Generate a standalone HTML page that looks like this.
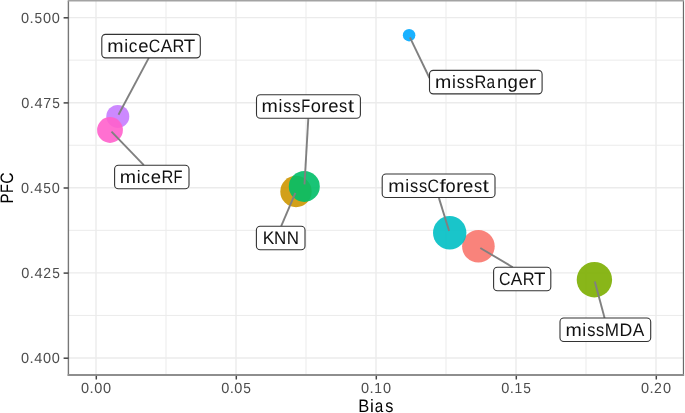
<!DOCTYPE html>
<html><head><meta charset="utf-8"><style>
html,body{margin:0;padding:0;background:#fff;}
svg{display:block;filter:blur(0.3px);}
text{font-family:"Liberation Sans",sans-serif;text-rendering:geometricPrecision;}
.ax{fill:#4D4D4D;}
.lb{fill:#111;}
.tt{fill:#000;}
</style></head><body>
<svg width="685" height="413" viewBox="0 0 685 413">
<rect x="0" y="0" width="685" height="413" fill="#fff"/>
<line x1="166.00" y1="0" x2="166.00" y2="375" stroke="#EBEBEB" stroke-width="1"/>
<line x1="306.00" y1="0" x2="306.00" y2="375" stroke="#EBEBEB" stroke-width="1"/>
<line x1="446.00" y1="0" x2="446.00" y2="375" stroke="#EBEBEB" stroke-width="1"/>
<line x1="586.00" y1="0" x2="586.00" y2="375" stroke="#EBEBEB" stroke-width="1"/>
<line x1="68" y1="315.45" x2="684" y2="315.45" stroke="#EBEBEB" stroke-width="1"/>
<line x1="68" y1="230.35" x2="684" y2="230.35" stroke="#EBEBEB" stroke-width="1"/>
<line x1="68" y1="145.25" x2="684" y2="145.25" stroke="#EBEBEB" stroke-width="1"/>
<line x1="68" y1="60.15" x2="684" y2="60.15" stroke="#EBEBEB" stroke-width="1"/>
<line x1="96.00" y1="0" x2="96.00" y2="375" stroke="#EBEBEB" stroke-width="1.4"/>
<line x1="236.00" y1="0" x2="236.00" y2="375" stroke="#EBEBEB" stroke-width="1.4"/>
<line x1="376.00" y1="0" x2="376.00" y2="375" stroke="#EBEBEB" stroke-width="1.4"/>
<line x1="516.00" y1="0" x2="516.00" y2="375" stroke="#EBEBEB" stroke-width="1.4"/>
<line x1="656.00" y1="0" x2="656.00" y2="375" stroke="#EBEBEB" stroke-width="1.4"/>
<line x1="68" y1="358.00" x2="684" y2="358.00" stroke="#EBEBEB" stroke-width="1.4"/>
<line x1="68" y1="272.90" x2="684" y2="272.90" stroke="#EBEBEB" stroke-width="1.4"/>
<line x1="68" y1="187.80" x2="684" y2="187.80" stroke="#EBEBEB" stroke-width="1.4"/>
<line x1="68" y1="102.70" x2="684" y2="102.70" stroke="#EBEBEB" stroke-width="1.4"/>
<line x1="68" y1="17.60" x2="684" y2="17.60" stroke="#EBEBEB" stroke-width="1.4"/>
<circle cx="478.4" cy="246.3" r="16.3" fill="#F8766D" fill-opacity="0.9"/>
<circle cx="449.7" cy="232.8" r="16.7" fill="#00BFC4" fill-opacity="0.9"/>
<circle cx="296" cy="191.5" r="15.7" fill="#CD9600" fill-opacity="0.9"/>
<circle cx="304.3" cy="186.4" r="15.5" fill="#00BE67" fill-opacity="0.9"/>
<circle cx="117.8" cy="116.4" r="11.5" fill="#C77CFF" fill-opacity="0.9"/>
<circle cx="110" cy="130" r="12.9" fill="#FF61CC" fill-opacity="0.9"/>
<circle cx="594.4" cy="279.7" r="17.7" fill="#7CAE00" fill-opacity="0.9"/>
<circle cx="409.1" cy="35.2" r="6.25" fill="#00A9FF" fill-opacity="0.9"/>
<line x1="118.5" y1="114.7" x2="148.8" y2="57.9" stroke="#808080" stroke-width="1.9"/>
<line x1="111.5" y1="131.6" x2="143.8" y2="165.2" stroke="#808080" stroke-width="1.9"/>
<line x1="409.9" y1="37.3" x2="429.5" y2="78" stroke="#808080" stroke-width="1.9"/>
<line x1="304.5" y1="184.4" x2="308.3" y2="118.4" stroke="#808080" stroke-width="1.9"/>
<line x1="295.4" y1="192.8" x2="281.2" y2="226.1" stroke="#808080" stroke-width="1.9"/>
<line x1="449.1" y1="231" x2="438.9" y2="197.9" stroke="#808080" stroke-width="1.9"/>
<line x1="480.3" y1="248" x2="512.8" y2="267.2" stroke="#808080" stroke-width="1.9"/>
<line x1="594.8" y1="281.4" x2="604.6" y2="318" stroke="#808080" stroke-width="1.9"/>
<rect x="101.8" y="34.35" width="98.5" height="23.5" rx="3.8" ry="3.8" fill="#fff" stroke="#333" stroke-width="1.1"/>
<text y="52.00" class="lb" style="font-size:18.09px"><tspan x="107.38" textLength="16.28" lengthAdjust="spacingAndGlyphs">m</tspan><tspan x="124.27" textLength="3.89" lengthAdjust="spacingAndGlyphs">i</tspan><tspan x="128.81" textLength="8.60" lengthAdjust="spacingAndGlyphs">c</tspan><tspan x="138.18" textLength="10.30" lengthAdjust="spacingAndGlyphs">e</tspan><tspan x="148.73" textLength="11.50" lengthAdjust="spacingAndGlyphs">C</tspan><tspan x="160.65" textLength="11.52" lengthAdjust="spacingAndGlyphs">A</tspan><tspan x="172.62" textLength="11.85" lengthAdjust="spacingAndGlyphs">R</tspan><tspan x="183.73" textLength="11.43" lengthAdjust="spacingAndGlyphs">T</tspan></text>
<rect x="429.5" y="70.35" width="112.6" height="23.5" rx="3.8" ry="3.8" fill="#fff" stroke="#333" stroke-width="1.1"/>
<text y="88.00" class="lb" style="font-size:18.09px"><tspan x="435.07" textLength="16.28" lengthAdjust="spacingAndGlyphs">m</tspan><tspan x="451.96" textLength="3.89" lengthAdjust="spacingAndGlyphs">i</tspan><tspan x="456.75" textLength="8.22" lengthAdjust="spacingAndGlyphs">s</tspan><tspan x="465.69" textLength="8.22" lengthAdjust="spacingAndGlyphs">s</tspan><tspan x="474.49" textLength="11.85" lengthAdjust="spacingAndGlyphs">R</tspan><tspan x="486.44" textLength="8.58" lengthAdjust="spacingAndGlyphs">a</tspan><tspan x="496.91" textLength="10.28" lengthAdjust="spacingAndGlyphs">n</tspan><tspan x="507.61" textLength="10.37" lengthAdjust="spacingAndGlyphs">g</tspan><tspan x="518.49" textLength="10.30" lengthAdjust="spacingAndGlyphs">e</tspan><tspan x="528.98" textLength="7.32" lengthAdjust="spacingAndGlyphs">r</tspan></text>
<rect x="114.6" y="165.20" width="74.4" height="23.5" rx="3.8" ry="3.8" fill="#fff" stroke="#333" stroke-width="1.1"/>
<text y="182.85" class="lb" style="font-size:18.09px"><tspan x="119.86" textLength="16.28" lengthAdjust="spacingAndGlyphs">m</tspan><tspan x="136.75" textLength="3.89" lengthAdjust="spacingAndGlyphs">i</tspan><tspan x="141.29" textLength="8.60" lengthAdjust="spacingAndGlyphs">c</tspan><tspan x="150.66" textLength="10.30" lengthAdjust="spacingAndGlyphs">e</tspan><tspan x="161.39" textLength="11.85" lengthAdjust="spacingAndGlyphs">R</tspan><tspan x="173.45" textLength="8.98" lengthAdjust="spacingAndGlyphs">F</tspan></text>
<rect x="256.5" y="94.75" width="103.9" height="23.5" rx="3.8" ry="3.8" fill="#fff" stroke="#333" stroke-width="1.1"/>
<text y="112.40" class="lb" style="font-size:18.09px"><tspan x="261.61" textLength="16.28" lengthAdjust="spacingAndGlyphs">m</tspan><tspan x="278.50" textLength="3.89" lengthAdjust="spacingAndGlyphs">i</tspan><tspan x="283.29" textLength="8.22" lengthAdjust="spacingAndGlyphs">s</tspan><tspan x="292.22" textLength="8.22" lengthAdjust="spacingAndGlyphs">s</tspan><tspan x="301.16" textLength="8.98" lengthAdjust="spacingAndGlyphs">F</tspan><tspan x="310.73" textLength="10.14" lengthAdjust="spacingAndGlyphs">o</tspan><tspan x="321.14" textLength="7.32" lengthAdjust="spacingAndGlyphs">r</tspan><tspan x="328.26" textLength="10.30" lengthAdjust="spacingAndGlyphs">e</tspan><tspan x="339.12" textLength="8.22" lengthAdjust="spacingAndGlyphs">s</tspan><tspan x="347.70" textLength="6.37" lengthAdjust="spacingAndGlyphs">t</tspan></text>
<rect x="256.4" y="226.20" width="48.6" height="23.5" rx="3.8" ry="3.8" fill="#fff" stroke="#333" stroke-width="1.1"/>
<text y="243.85" class="lb" style="font-size:18.09px"><tspan x="262.71" textLength="11.54" lengthAdjust="spacingAndGlyphs">K</tspan><tspan x="273.99" textLength="12.23" lengthAdjust="spacingAndGlyphs">N</tspan><tspan x="286.82" textLength="12.23" lengthAdjust="spacingAndGlyphs">N</tspan></text>
<rect x="382.2" y="174.00" width="112.8" height="23.5" rx="3.8" ry="3.8" fill="#fff" stroke="#333" stroke-width="1.1"/>
<text y="191.65" class="lb" style="font-size:18.09px"><tspan x="388.33" textLength="16.28" lengthAdjust="spacingAndGlyphs">m</tspan><tspan x="405.22" textLength="3.89" lengthAdjust="spacingAndGlyphs">i</tspan><tspan x="410.02" textLength="8.22" lengthAdjust="spacingAndGlyphs">s</tspan><tspan x="418.95" textLength="8.22" lengthAdjust="spacingAndGlyphs">s</tspan><tspan x="427.57" textLength="11.50" lengthAdjust="spacingAndGlyphs">C</tspan><tspan x="439.46" textLength="6.26" lengthAdjust="spacingAndGlyphs">f</tspan><tspan x="445.61" textLength="10.14" lengthAdjust="spacingAndGlyphs">o</tspan><tspan x="456.02" textLength="7.32" lengthAdjust="spacingAndGlyphs">r</tspan><tspan x="463.13" textLength="10.30" lengthAdjust="spacingAndGlyphs">e</tspan><tspan x="473.99" textLength="8.22" lengthAdjust="spacingAndGlyphs">s</tspan><tspan x="482.57" textLength="6.37" lengthAdjust="spacingAndGlyphs">t</tspan></text>
<rect x="493.6" y="267.30" width="57.2" height="23.5" rx="3.8" ry="3.8" fill="#fff" stroke="#333" stroke-width="1.1"/>
<text y="284.95" class="lb" style="font-size:18.09px"><tspan x="498.95" textLength="11.50" lengthAdjust="spacingAndGlyphs">C</tspan><tspan x="510.87" textLength="11.52" lengthAdjust="spacingAndGlyphs">A</tspan><tspan x="522.84" textLength="11.85" lengthAdjust="spacingAndGlyphs">R</tspan><tspan x="533.95" textLength="11.43" lengthAdjust="spacingAndGlyphs">T</tspan></text>
<rect x="560.0" y="318.00" width="90.7" height="23.5" rx="3.8" ry="3.8" fill="#fff" stroke="#333" stroke-width="1.1"/>
<text y="335.65" class="lb" style="font-size:18.09px"><tspan x="565.46" textLength="16.28" lengthAdjust="spacingAndGlyphs">m</tspan><tspan x="582.35" textLength="3.89" lengthAdjust="spacingAndGlyphs">i</tspan><tspan x="587.15" textLength="8.22" lengthAdjust="spacingAndGlyphs">s</tspan><tspan x="596.08" textLength="8.22" lengthAdjust="spacingAndGlyphs">s</tspan><tspan x="604.83" textLength="14.24" lengthAdjust="spacingAndGlyphs">M</tspan><tspan x="619.57" textLength="12.81" lengthAdjust="spacingAndGlyphs">D</tspan><tspan x="632.65" textLength="11.52" lengthAdjust="spacingAndGlyphs">A</tspan></text>
<line x1="68.4" y1="1" x2="68.4" y2="375.9" stroke="#777" stroke-width="1.4"/>
<line x1="683.45" y1="1" x2="683.45" y2="375.9" stroke="#6A6A6A" stroke-width="1.2"/>
<line x1="67.7" y1="0.8" x2="684.1" y2="0.8" stroke="#A3A3A3" stroke-width="1.6"/>
<line x1="67.7" y1="374.9" x2="684.1" y2="374.9" stroke="#8E8E8E" stroke-width="2"/>
<line x1="63.6" y1="358.20" x2="68.4" y2="358.20" stroke="#444" stroke-width="1.5"/>
<line x1="63.6" y1="273.10" x2="68.4" y2="273.10" stroke="#444" stroke-width="1.5"/>
<line x1="63.6" y1="188.00" x2="68.4" y2="188.00" stroke="#444" stroke-width="1.5"/>
<line x1="63.6" y1="102.90" x2="68.4" y2="102.90" stroke="#444" stroke-width="1.5"/>
<line x1="63.6" y1="17.80" x2="68.4" y2="17.80" stroke="#444" stroke-width="1.5"/>
<line x1="96.30" y1="375.9" x2="96.30" y2="379.5" stroke="#444" stroke-width="1.5"/>
<line x1="236.30" y1="375.9" x2="236.30" y2="379.5" stroke="#444" stroke-width="1.5"/>
<line x1="376.30" y1="375.9" x2="376.30" y2="379.5" stroke="#444" stroke-width="1.5"/>
<line x1="516.30" y1="375.9" x2="516.30" y2="379.5" stroke="#444" stroke-width="1.5"/>
<line x1="656.30" y1="375.9" x2="656.30" y2="379.5" stroke="#444" stroke-width="1.5"/>
<text y="363.00" class="ax" style="font-size:14.63px"><tspan x="21.05" textLength="8.09" lengthAdjust="spacingAndGlyphs">0</tspan><tspan x="29.60" textLength="4.15" lengthAdjust="spacingAndGlyphs">.</tspan><tspan x="34.22" textLength="8.09" lengthAdjust="spacingAndGlyphs">4</tspan><tspan x="43.00" textLength="8.09" lengthAdjust="spacingAndGlyphs">0</tspan><tspan x="51.78" textLength="8.09" lengthAdjust="spacingAndGlyphs">0</tspan></text>
<text y="277.90" class="ax" style="font-size:14.63px"><tspan x="21.34" textLength="8.09" lengthAdjust="spacingAndGlyphs">0</tspan><tspan x="29.89" textLength="4.15" lengthAdjust="spacingAndGlyphs">.</tspan><tspan x="34.51" textLength="8.09" lengthAdjust="spacingAndGlyphs">4</tspan><tspan x="43.25" textLength="7.80" lengthAdjust="spacingAndGlyphs">2</tspan><tspan x="52.24" textLength="7.64" lengthAdjust="spacingAndGlyphs">5</tspan></text>
<text y="192.80" class="ax" style="font-size:14.63px"><tspan x="21.05" textLength="8.09" lengthAdjust="spacingAndGlyphs">0</tspan><tspan x="29.60" textLength="4.15" lengthAdjust="spacingAndGlyphs">.</tspan><tspan x="34.22" textLength="8.09" lengthAdjust="spacingAndGlyphs">4</tspan><tspan x="43.17" textLength="7.64" lengthAdjust="spacingAndGlyphs">5</tspan><tspan x="51.78" textLength="8.09" lengthAdjust="spacingAndGlyphs">0</tspan></text>
<text y="107.70" class="ax" style="font-size:14.63px"><tspan x="21.34" textLength="8.09" lengthAdjust="spacingAndGlyphs">0</tspan><tspan x="29.89" textLength="4.15" lengthAdjust="spacingAndGlyphs">.</tspan><tspan x="34.51" textLength="8.09" lengthAdjust="spacingAndGlyphs">4</tspan><tspan x="43.35" textLength="7.91" lengthAdjust="spacingAndGlyphs">7</tspan><tspan x="52.24" textLength="7.64" lengthAdjust="spacingAndGlyphs">5</tspan></text>
<text y="22.60" class="ax" style="font-size:14.63px"><tspan x="21.05" textLength="8.09" lengthAdjust="spacingAndGlyphs">0</tspan><tspan x="29.60" textLength="4.15" lengthAdjust="spacingAndGlyphs">.</tspan><tspan x="34.39" textLength="7.64" lengthAdjust="spacingAndGlyphs">5</tspan><tspan x="43.00" textLength="8.09" lengthAdjust="spacingAndGlyphs">0</tspan><tspan x="51.78" textLength="8.09" lengthAdjust="spacingAndGlyphs">0</tspan></text>
<text y="392.60" class="ax" style="font-size:14.63px"><tspan x="80.98" textLength="8.09" lengthAdjust="spacingAndGlyphs">0</tspan><tspan x="89.53" textLength="4.15" lengthAdjust="spacingAndGlyphs">.</tspan><tspan x="94.15" textLength="8.09" lengthAdjust="spacingAndGlyphs">0</tspan><tspan x="102.93" textLength="8.09" lengthAdjust="spacingAndGlyphs">0</tspan></text>
<text y="392.60" class="ax" style="font-size:14.63px"><tspan x="221.13" textLength="8.09" lengthAdjust="spacingAndGlyphs">0</tspan><tspan x="229.68" textLength="4.15" lengthAdjust="spacingAndGlyphs">.</tspan><tspan x="234.29" textLength="8.09" lengthAdjust="spacingAndGlyphs">0</tspan><tspan x="243.25" textLength="7.64" lengthAdjust="spacingAndGlyphs">5</tspan></text>
<text y="392.60" class="ax" style="font-size:14.63px"><tspan x="360.98" textLength="8.09" lengthAdjust="spacingAndGlyphs">0</tspan><tspan x="369.53" textLength="4.15" lengthAdjust="spacingAndGlyphs">.</tspan><tspan x="374.26" textLength="7.73" lengthAdjust="spacingAndGlyphs">1</tspan><tspan x="382.93" textLength="8.09" lengthAdjust="spacingAndGlyphs">0</tspan></text>
<text y="392.60" class="ax" style="font-size:14.63px"><tspan x="501.13" textLength="8.09" lengthAdjust="spacingAndGlyphs">0</tspan><tspan x="509.68" textLength="4.15" lengthAdjust="spacingAndGlyphs">.</tspan><tspan x="514.41" textLength="7.73" lengthAdjust="spacingAndGlyphs">1</tspan><tspan x="523.25" textLength="7.64" lengthAdjust="spacingAndGlyphs">5</tspan></text>
<text y="392.60" class="ax" style="font-size:14.63px"><tspan x="640.98" textLength="8.09" lengthAdjust="spacingAndGlyphs">0</tspan><tspan x="649.53" textLength="4.15" lengthAdjust="spacingAndGlyphs">.</tspan><tspan x="654.11" textLength="7.80" lengthAdjust="spacingAndGlyphs">2</tspan><tspan x="662.93" textLength="8.09" lengthAdjust="spacingAndGlyphs">0</tspan></text>
<text y="411.60" class="tt" style="font-size:18.02px"><tspan x="358.26" textLength="11.02" lengthAdjust="spacingAndGlyphs">B</tspan><tspan x="370.05" textLength="3.86" lengthAdjust="spacingAndGlyphs">i</tspan><tspan x="374.71" textLength="8.50" lengthAdjust="spacingAndGlyphs">a</tspan><tspan x="385.22" textLength="8.15" lengthAdjust="spacingAndGlyphs">s</tspan></text>
<g transform="translate(13.4,187.5) rotate(-90)"><text y="0.00" class="tt" style="font-size:18.02px"><tspan x="-15.89" textLength="10.03" lengthAdjust="spacingAndGlyphs">P</tspan><tspan x="-5.60" textLength="8.90" lengthAdjust="spacingAndGlyphs">F</tspan><tspan x="3.86" textLength="11.40" lengthAdjust="spacingAndGlyphs">C</tspan></text></g>
</svg>
</body></html>
